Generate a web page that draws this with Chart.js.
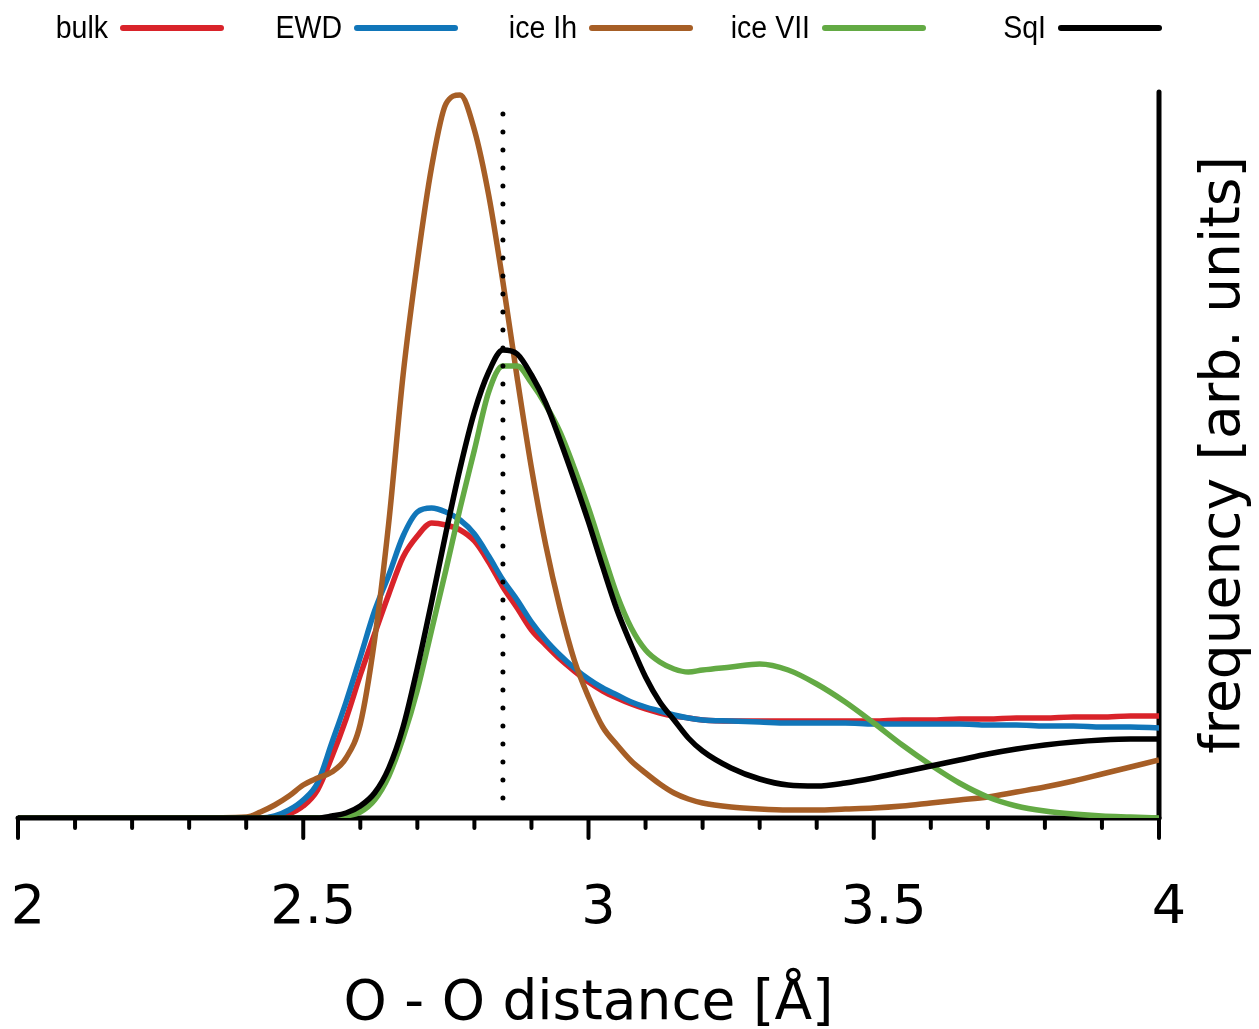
<!DOCTYPE html>
<html>
<head>
<meta charset="utf-8">
<title>O - O distance distribution</title>
<script src="https://cdn.jsdelivr.net/npm/chart.js@4.4.1/dist/chart.umd.min.js"></script>
<style>
  html, body { margin: 0; padding: 0; background: #fff; }
  #wrap { width: 1259px; height: 1029px; }
</style>
</head>
<body>
<div id="wrap"><canvas id="rdfChart" width="1259" height="1029"></canvas></div>
<script>
// O-O distance grid (Å), shared by every series
const distance = [2.0, 2.1, 2.2, 2.3, 2.4,
  2.425, 2.45, 2.475, 2.5, 2.525, 2.55, 2.575, 2.6, 2.625, 2.65, 2.675, 2.7, 2.725, 2.75, 2.775, 2.8,
  2.825, 2.85, 2.875, 2.9, 2.925, 2.95, 2.975, 3.0, 3.025, 3.05, 3.075, 3.1, 3.125, 3.15, 3.175, 3.2,
  3.25, 3.3, 3.35, 3.4, 3.45, 3.5, 3.55, 3.6, 3.65, 3.7, 3.75, 3.8, 3.85, 3.9, 3.95, 4.0];

// frequency, arbitrary units
const bulk = [0, 0, 0, 0, 0,
  0, 0.01, 0.04, 0.12, 0.28, 0.61, 0.99, 1.43, 1.84, 2.24, 2.61, 2.82, 2.95, 2.93, 2.88, 2.77,
  2.56, 2.31, 2.10, 1.88, 1.73, 1.59, 1.47, 1.36, 1.27, 1.20, 1.14, 1.09, 1.05, 1.02, 1.00, 0.98,
  0.97, 0.97, 0.97, 0.97, 0.97, 0.97, 0.98, 0.98, 0.99, 0.99, 1.00, 1.00, 1.01, 1.01, 1.02, 1.02];

const ewd = [0, 0, 0, 0, 0,
  0, 0.02, 0.08, 0.18, 0.35, 0.75, 1.16, 1.61, 2.07, 2.43, 2.82, 3.06, 3.10, 3.06, 2.98, 2.84,
  2.62, 2.38, 2.18, 1.96, 1.78, 1.63, 1.50, 1.39, 1.30, 1.23, 1.16, 1.11, 1.07, 1.03, 1.00, 0.98,
  0.97, 0.96, 0.95, 0.95, 0.95, 0.94, 0.94, 0.94, 0.94, 0.93, 0.93, 0.92, 0.92, 0.91, 0.91, 0.90];

const iceIh = [0, 0, 0, 0, 0.01,
  0.06, 0.13, 0.22, 0.33, 0.40, 0.46, 0.60, 0.94, 1.78, 2.96, 4.43, 5.56, 6.51, 7.14, 7.23, 6.88,
  6.23, 5.36, 4.40, 3.50, 2.73, 2.10, 1.58, 1.21, 0.91, 0.73, 0.57, 0.45, 0.34, 0.25, 0.19, 0.15,
  0.11, 0.09, 0.08, 0.08, 0.09, 0.10, 0.12, 0.15, 0.18, 0.21, 0.26, 0.31, 0.37, 0.44, 0.51, 0.58];

const iceVII = [0, 0, 0, 0, 0,
  0, 0, 0, 0, 0, 0, 0.02, 0.06, 0.18, 0.42, 0.80, 1.28, 1.88, 2.48, 3.10, 3.68,
  4.26, 4.52, 4.52, 4.35, 4.13, 3.86, 3.50, 3.10, 2.66, 2.23, 1.90, 1.68, 1.56, 1.49, 1.46, 1.48,
  1.51, 1.54, 1.48, 1.34, 1.16, 0.95, 0.73, 0.53, 0.35, 0.21, 0.12, 0.07, 0.04, 0.02, 0.01, 0];

const sqI = [0, 0, 0, 0, 0,
  0, 0, 0, 0, 0, 0.02, 0.05, 0.12, 0.25, 0.50, 0.91, 1.50, 2.16, 2.85, 3.50, 4.06,
  4.46, 4.68, 4.64, 4.43, 4.15, 3.78, 3.38, 2.96, 2.51, 2.08, 1.73, 1.41, 1.16, 0.98, 0.80, 0.67,
  0.50, 0.39, 0.33, 0.32, 0.35, 0.40, 0.46, 0.52, 0.58, 0.64, 0.69, 0.73, 0.76, 0.78, 0.79, 0.79];

const seriesNames = ['bulk', 'EWD', 'ice Ih', 'ice VII', 'SqI'];
const xTickValues = [2, 2.5, 3, 3.5, 4];
const markerX = 2.85;            // dotted reference line
const markerSpan = [0.2, 7.21];
const yMax = 7.26;

const colors = {
  bulk: '#d9232a',
  ewd: '#1176b9',
  iceIh: '#a65e26',
  iceVII: '#63aa44',
  sqI: '#000000'
};

function toPoints(values) {
  return distance.map((d, i) => ({ x: d, y: values[i] }));
}

// axis line, ticks, right title and the legend row are drawn by hand
const decorPlugin = {
  id: 'decor',
  beforeDatasetsDraw(chart) {
    const { ctx, chartArea } = chart;
    const x = chart.scales.x;
    const base = chartArea.bottom;
    ctx.save();
    ctx.strokeStyle = '#000';
    ctx.lineCap = 'round';

    // minor ticks every 0.1, long ones on the labelled values
    ctx.lineWidth = 4;
    for (let i = 0; i <= 20; i++) {
      const v = x.min + i * 0.1;
      const major = xTickValues.some(t => Math.abs(t - v) < 1e-6);
      const px = x.getPixelForValue(v);
      ctx.beginPath();
      ctx.moveTo(px, base);
      ctx.lineTo(px, base + (major ? 20 : 10));
      ctx.stroke();
    }

    ctx.lineWidth = 5;
    ctx.beginPath();
    ctx.moveTo(chartArea.left, base);
    ctx.lineTo(chartArea.right, base);
    ctx.stroke();

    ctx.beginPath();
    ctx.moveTo(chartArea.right, chartArea.top);
    ctx.lineTo(chartArea.right, base);
    ctx.stroke();
    ctx.restore();
  },
  afterDraw(chart) {
    const { ctx, chartArea } = chart;
    ctx.save();

    // y axis title, reads bottom to top
    ctx.translate(1225, (chartArea.top + chartArea.bottom) / 2);
    ctx.rotate(-Math.PI / 2);
    ctx.font = '55px "DejaVu Sans"';
    ctx.fillStyle = '#000';
    ctx.textAlign = 'center';
    ctx.textBaseline = 'middle';
    ctx.fillText('frequency [arb. units]', 0, 0);
    ctx.restore();

    // legend: label first, then a short line sample
    const lineStarts = [123, 357, 592, 825, 1061];
    const legendY = 28;
    chart.data.datasets.forEach(ds => {
      const idx = seriesNames.indexOf(ds.label);
      if (idx < 0) return;
      const start = lineStarts[idx];
      ctx.save();
      ctx.strokeStyle = ds.borderColor;
      ctx.lineWidth = 6;
      ctx.lineCap = 'round';
      ctx.beginPath();
      ctx.moveTo(start, legendY);
      ctx.lineTo(start + 98, legendY);
      ctx.stroke();

      ctx.translate(start - 15, legendY);
      ctx.scale(0.92, 1);
      ctx.font = '31px "Liberation Sans"';
      ctx.fillStyle = '#000';
      ctx.textAlign = 'right';
      ctx.textBaseline = 'middle';
      ctx.fillText(ds.label, 0, 1);
      ctx.restore();
    });
  }
};

const ctx = document.getElementById('rdfChart').getContext('2d');
new Chart(ctx, {
  type: 'line',
  data: {
    datasets: [
      {
        label: 'dotted',
        data: [{ x: markerX, y: markerSpan[0] }, { x: markerX, y: markerSpan[1] }],
        borderColor: '#000',
        borderWidth: 5,
        borderDash: [0, 18],
        borderCapStyle: 'round',
        cubicInterpolationMode: 'default',
        tension: 0,
        order: 0
      },
      { label: 'SqI', data: toPoints(sqI), borderColor: colors.sqI, order: 1 },
      { label: 'ice VII', data: toPoints(iceVII), borderColor: colors.iceVII, order: 2 },
      { label: 'ice Ih', data: toPoints(iceIh), borderColor: colors.iceIh, order: 3 },
      { label: 'EWD', data: toPoints(ewd), borderColor: colors.ewd, order: 4 },
      { label: 'bulk', data: toPoints(bulk), borderColor: colors.bulk, order: 5 }
    ]
  },
  options: {
    responsive: false,
    animation: false,
    layout: { padding: { left: 18, right: 100, top: 92, bottom: 0 } },
    plugins: {
      legend: { display: false },
      tooltip: { enabled: false }
    },
    elements: {
      point: { radius: 0 },
      line: { borderWidth: 5.5, cubicInterpolationMode: 'monotone', borderJoinStyle: 'round', fill: false }
    },
    scales: {
      x: {
        type: 'linear',
        min: 2,
        max: 4,
        grid: { display: false, drawTicks: false },
        border: { display: false },
        afterBuildTicks: scale => { scale.ticks = xTickValues.map(v => ({ value: v })); },
        afterFit: scale => {
          scale.height = 211;
          scale.paddingLeft = 0;
          scale.paddingRight = 0;
        },
        ticks: {
          font: { family: 'DejaVu Sans', size: 54 },
          color: '#000',
          padding: 59,
          labelOffset: 10,
          maxRotation: 0,
          autoSkip: false,
          callback: v => String(v)
        },
        title: {
          display: true,
          text: 'O - O distance [Å]',
          font: { family: 'DejaVu Sans', size: 55, lineHeight: 0.9 },
          color: '#000',
          padding: { top: 0, bottom: 0 }
        }
      },
      y: { min: 0, max: yMax, display: false }
    }
  },
  plugins: [decorPlugin]
});
</script>
</body>
</html>
